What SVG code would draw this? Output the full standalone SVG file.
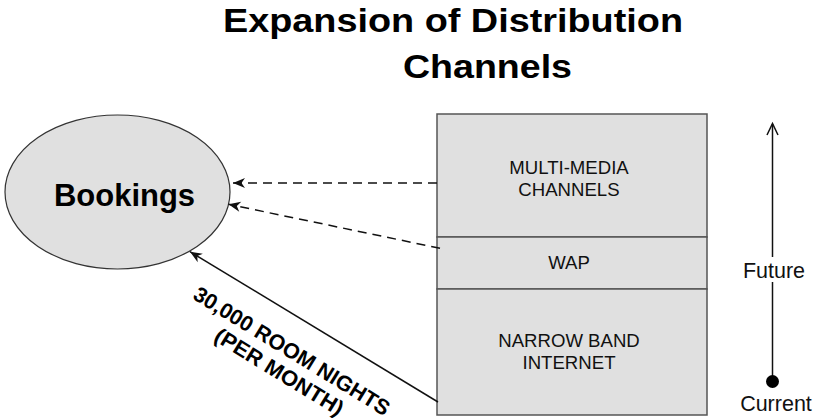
<svg xmlns="http://www.w3.org/2000/svg" width="816" height="418" viewBox="0 0 816 418">
  <style>
    .title { font-family: "Liberation Sans", Arial, sans-serif; font-weight: bold; font-size: 34px; fill: #000; }
    .box { fill: #e0e0e0; stroke: #555; stroke-width: 1.5; }
    .lbl { font-family: "Liberation Sans", Arial, sans-serif; font-size: 18.6px; fill: #111; text-anchor: middle; }
    .side { font-family: "Liberation Sans", Arial, sans-serif; font-size: 21.5px; fill: #111; text-anchor: middle; }
    .conn { fill: none; stroke: #111; stroke-width: 1.5; }
    .dash { stroke-dasharray: 9 6; }
    .rot { font-family: "Liberation Sans", Arial, sans-serif; font-weight: bold; font-size: 21.5px; fill: #000; text-anchor: middle; }
  </style>
  <defs>
    <marker id="head" markerUnits="userSpaceOnUse" markerWidth="14" markerHeight="12" refX="13" refY="6" orient="auto">
      <path d="M1,1 L13,6 L1,11 L4.5,6 Z" fill="#111"/>
    </marker>
  </defs>

  <rect width="816" height="418" fill="#fff"/>

  <!-- heading -->
  <g id="title">
    <text class="title" x="223" y="32" textLength="460" lengthAdjust="spacingAndGlyphs">Expansion of Distribution</text>
    <text class="title" x="403" y="78" textLength="169" lengthAdjust="spacingAndGlyphs">Channels</text>
  </g>

  <!-- bookings target -->
  <g id="bookings">
    <ellipse cx="117.5" cy="192" rx="112.5" ry="77" fill="#e0e0e0" stroke="#333" stroke-width="1.2"/>
    <text x="124.5" y="206" font-family="Liberation Sans, Arial, sans-serif" font-weight="bold" font-size="31" text-anchor="middle" fill="#000">Bookings</text>
  </g>

  <!-- channel stack -->
  <g id="multimedia">
    <rect class="box" x="437" y="114" width="270" height="123"/>
    <text class="lbl" x="569" y="174">MULTI-MEDIA</text>
    <text class="lbl" x="569" y="196">CHANNELS</text>
  </g>
  <g id="wap">
    <rect class="box" x="437" y="237" width="270" height="52"/>
    <text class="lbl" x="569" y="269">WAP</text>
  </g>
  <g id="narrowband">
    <rect class="box" x="437" y="289" width="270" height="126"/>
    <text class="lbl" x="569" y="347">NARROW BAND</text>
    <text class="lbl" x="569" y="369">INTERNET</text>
  </g>

  <!-- timeline -->
  <g id="timeline">
    <line class="conn" x1="772.5" y1="124" x2="772.5" y2="257"/>
    <polyline class="conn" points="767,135 772.5,123.5 778,135"/>
    <line class="conn" x1="772.5" y1="282" x2="772.5" y2="381"/>
    <circle cx="772.5" cy="381.5" r="6.5" fill="#000"/>
    <text class="side" x="774" y="278">Future</text>
    <text class="side" x="776" y="411">Current</text>
  </g>

  <!-- flows into bookings -->
  <g id="connectors">
    <line class="conn dash" x1="437" y1="183" x2="233" y2="183" marker-end="url(#head)"/>
    <line class="conn dash" x1="440" y1="248.3" x2="228.5" y2="204.3" marker-end="url(#head)"/>
    <line class="conn" x1="438" y1="402" x2="190" y2="251.7" marker-end="url(#head)"/>
    <g transform="translate(288,357.4) rotate(31.5)">
      <text class="rot" x="0" y="0" textLength="226" lengthAdjust="spacingAndGlyphs">30,000 ROOM NIGHTS</text>
      <text class="rot" x="0" y="24.3" textLength="147" lengthAdjust="spacingAndGlyphs">(PER MONTH)</text>
    </g>
  </g>
</svg>
